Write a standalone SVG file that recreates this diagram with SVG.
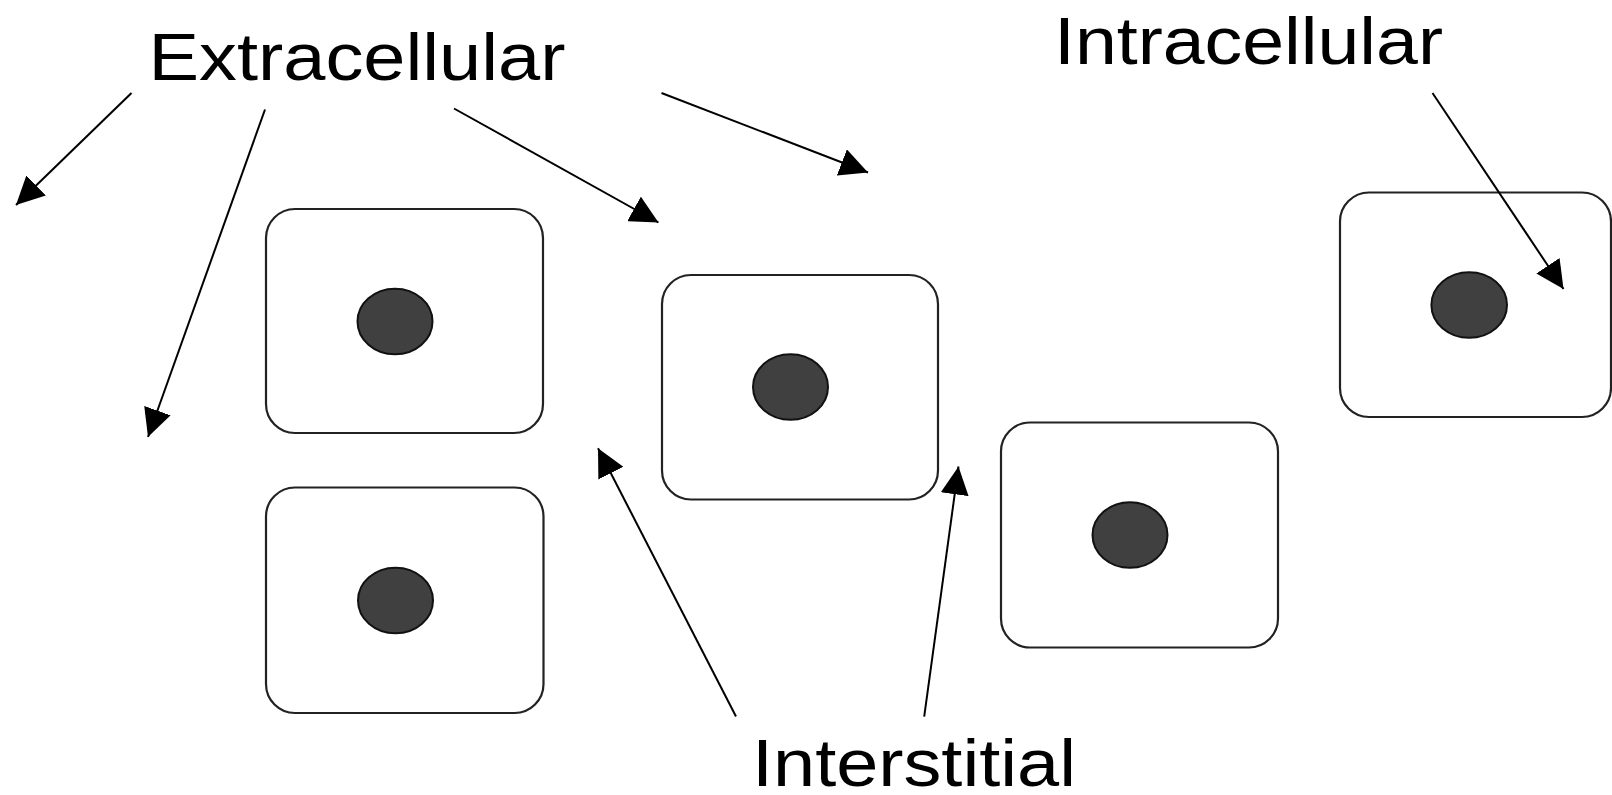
<svg xmlns="http://www.w3.org/2000/svg" width="1612" height="795" viewBox="0 0 1612 795">
<style>
.cell{fill:#ffffff;stroke:#222222;stroke-width:2.2}
.nuc{fill:#404040;stroke:#111111;stroke-width:2}
.lbl{font-family:"Liberation Sans",Arial,sans-serif;font-size:66px;fill:#000000}
.conn line{stroke:#000000;stroke-width:2;fill:none}
</style>
<defs>
<marker id="ah" markerUnits="userSpaceOnUse" markerWidth="28" markerHeight="28" refX="28" refY="14" orient="auto" viewBox="0 0 28 28">
<path d="M0,0 L28,14 L0,28 z" fill="#000000"/>
</marker>
</defs>
<rect width="1612" height="795" fill="#ffffff"/>
<g id="cell1"><rect class="cell" x="266" y="209" width="277" height="224" rx="29" ry="29"/><ellipse class="nuc" cx="395" cy="321.5" rx="37.5" ry="32.8"/></g>
<g id="cell2"><rect class="cell" x="266" y="487.5" width="277.5" height="225.5" rx="29" ry="29"/><ellipse class="nuc" cx="395.5" cy="600.5" rx="37.5" ry="32.8"/></g>
<g id="cell3"><rect class="cell" x="662" y="275" width="276" height="224.5" rx="29" ry="29"/><ellipse class="nuc" cx="790.5" cy="387" rx="37.5" ry="32.8"/></g>
<g id="cell4"><rect class="cell" x="1001" y="422.5" width="277" height="225" rx="29" ry="29"/><ellipse class="nuc" cx="1130" cy="535" rx="37.5" ry="32.8"/></g>
<g id="cell5"><rect class="cell" x="1340" y="192.5" width="271" height="224.5" rx="29" ry="29"/><ellipse class="nuc" cx="1469.2" cy="305" rx="37.8" ry="32.8"/></g>
<g id="label-extracellular"><text class="lbl" x="148.5" y="80" textLength="417" lengthAdjust="spacingAndGlyphs">Extracellular</text></g>
<g id="label-intracellular"><text class="lbl" x="1054" y="63.5" textLength="389" lengthAdjust="spacingAndGlyphs">Intracellular</text></g>
<g id="label-interstitial"><text class="lbl" x="752" y="785.5" textLength="324" lengthAdjust="spacingAndGlyphs">Interstitial</text></g>
<g id="connectors" class="conn">
<line x1="131.5" y1="93" x2="16" y2="205" marker-end="url(#ah)"/>
<line x1="265" y1="109.5" x2="148" y2="437" marker-end="url(#ah)"/>
<line x1="454" y1="108.5" x2="658.5" y2="222.5" marker-end="url(#ah)"/>
<line x1="661.5" y1="93" x2="868" y2="172.5" marker-end="url(#ah)"/>
<line x1="1432.5" y1="93" x2="1563.5" y2="289" marker-end="url(#ah)"/>
<line x1="736" y1="716.5" x2="598" y2="448.3" marker-end="url(#ah)"/>
<line x1="924.2" y1="716.7" x2="958.5" y2="466.5" marker-end="url(#ah)"/>
</g>
</svg>
